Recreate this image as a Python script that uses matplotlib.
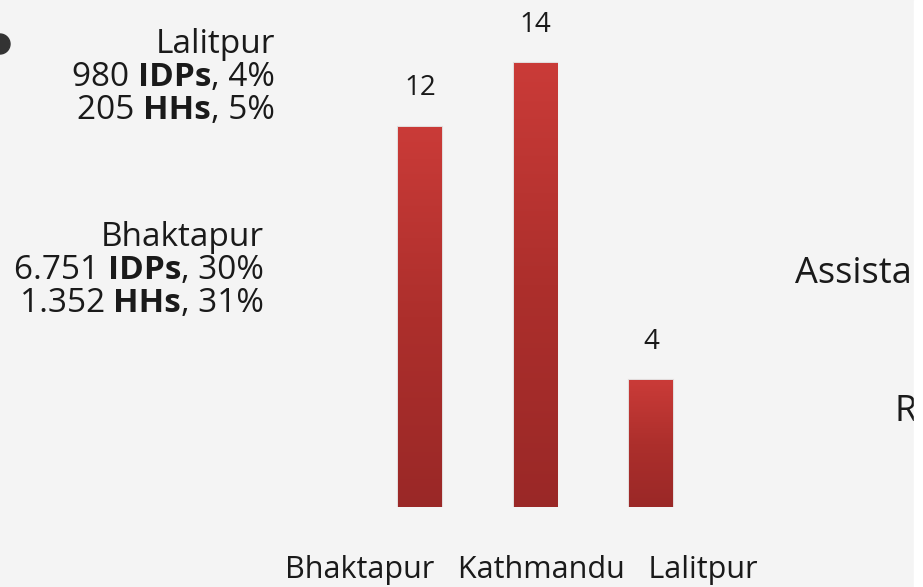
import matplotlib.pyplot as plt
import numpy as np
from matplotlib.colors import LinearSegmentedColormap
from matplotlib.patches import Ellipse, Rectangle

# chart data
districts = ['Bhaktapur', 'Kathmandu', 'Lalitpur']
counts = [12, 14, 4]

# side notes (left of the chart)
note_names = ['Lalitpur', 'Bhaktapur']
note_idps = ['980', '6.751']
note_idp_pct = ['4%', '30%']
note_hhs = ['205', '1.352']
note_hh_pct = ['5%', '31%']

plt.rcParams['font.family'] = ['Open Sans', 'DejaVu Sans']
W, H = 923, 587
fig = plt.figure(figsize=(W / 100, H / 100), dpi=100)
fig.patch.set_facecolor('#f4f4f4')

ax = fig.add_axes([362 / W, 80 / H, 347 / W, 507 / H])
ax.set_facecolor('none')
x = np.arange(len(districts))
bars = ax.bar(x, counts, width=0.38, color='#b53230',
              edgecolor='#e2dcdc', linewidth=1.5, zorder=2)

# gradient fill clipped to each bar
cmap = LinearSegmentedColormap.from_list('bar', ['#9a2827', '#ad2f2c', '#ca3b38'])
grad = np.linspace(0, 1, 256).reshape(-1, 1)
for b in bars:
    im = ax.imshow(grad, cmap=cmap, aspect='auto', origin='lower', zorder=3,
                   extent=[b.get_x(), b.get_x() + b.get_width(), 0, b.get_height()])
    im.set_clip_path(b)

for xi, v in zip(x, counts):
    ax.text(xi, v + 1.0, str(v), ha='center', va='baseline',
            fontsize=20, color='#1a1a1a')

ax.set_xlim(-0.5, 2.5)
ax.set_ylim(0, 16)
ax.set_xticks([])
ax.set_yticks([])
for s in ax.spines.values():
    s.set_visible(False)

# category names: one text line under the bars, as on the slide
fig.text(285 / W, 1 - 578 / H, '   '.join(districts), ha='left', va='baseline',
         fontsize=22, color='#1a1a1a')

# left notes with bold words, right aligned, built piece by piece
renderer = fig.canvas.get_renderer()


def rich_line(x_px, y_px, parts, size):
    xr = x_px
    for txt, weight in reversed(parts):
        t = fig.text(xr / W, 1 - y_px / H, txt, ha='right', va='baseline',
                     fontsize=size, fontweight=weight, color='#1a1a1a')
        bb = t.get_window_extent(renderer)
        xr = bb.x0


note_right = [275, 264]
note_base = [53, 246]
lh = 33
for i in range(len(note_names)):
    xr, yb = note_right[i], note_base[i]
    rich_line(xr, yb, [(note_names[i], 'normal')], 24)
    rich_line(xr, yb + lh, [(note_idps[i] + ' ', 'normal'), ('IDPs', 'bold'),
                            (', ' + note_idp_pct[i], 'normal')], 24)
    rich_line(xr, yb + 2 * lh, [(note_hhs[i] + ' ', 'normal'), ('HHs', 'bold'),
                                (', ' + note_hh_pct[i], 'normal')], 24)

# cut-off text on the right side of the slide
fig.text(795 / W, 1 - 283 / H, 'Assista', ha='left', va='baseline',
         fontsize=26, color='#1a1a1a')
fig.text(895 / W, 1 - 421 / H, 'R', ha='left', va='baseline',
         fontsize=26, color='#1a1a1a')

# bullet dot at top left
fig.patches.append(Ellipse((0, 1 - 44 / H), 20 / W, 20 / H,
                           transform=fig.transFigure, color='#333333'))
# white strip on the right edge
fig.patches.append(Rectangle((914 / W, 0), 9 / W, 1, transform=fig.transFigure,
                             color='white', zorder=10))

fig.savefig('out.png', dpi=100, facecolor=fig.get_facecolor())
